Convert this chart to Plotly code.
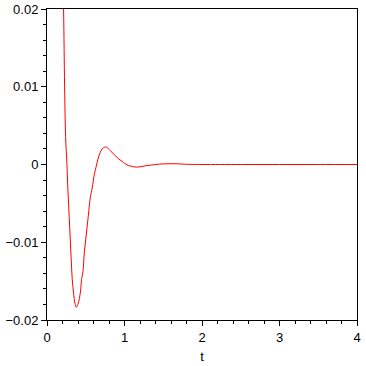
import plotly.graph_objects as go

t = [0.19, 0.214, 0.227, 0.24, 0.257, 0.27, 0.287, 0.30, 0.313, 0.326, 0.343, 0.36, 0.378,
     0.403, 0.429, 0.446, 0.464, 0.481, 0.506, 0.532, 0.558, 0.584, 0.61, 0.635, 0.661,
     0.687, 0.72, 0.764, 0.816, 0.867, 0.928, 0.987, 1.05, 1.16, 1.27, 1.4, 1.5, 1.6,
     1.7, 1.8, 2.0, 2.5, 3.0, 3.5, 4.0]
y = [0.032, 0.02, 0.0102, 0.0036, 0.0001, -0.00335, -0.0068, -0.0097, -0.0123, -0.0148,
     -0.01655, -0.01784, -0.01835, -0.01784, -0.01655, -0.0148, -0.0138, -0.0114, -0.00905,
     -0.0067, -0.0043, -0.0030, -0.0013, -0.00026, 0.0008, 0.00155, 0.0021, 0.00224, 0.0018,
     0.00125, 0.0007, 0.00026, -0.00013, -0.00034, -0.00017, 0.0, 0.00008, 0.0001, 0.00008,
     0.00003, 0.0, 0.0, 0.0, 0.0, 0.0]

x_ticks = [0, 1, 2, 3, 4]
y_ticks = [-0.02, -0.01, 0, 0.01, 0.02]
y_labels = ["−0.02", "−0.01", "0", "0.01", "0.02"]

fig = go.Figure(go.Scatter(x=t, y=y, mode="lines", line=dict(color="#ff0000", width=1),
                           line_shape="spline", hoverinfo="skip"))

axis_common = dict(showgrid=False, zeroline=False, showline=True, linecolor="black",
                   linewidth=1, mirror=True, ticks="outside", ticklen=5, tickwidth=1,
                   automargin=False,
                   tickcolor="black", tickfont=dict(family="Liberation Sans, Arial", size=13, color="black"))

fig.update_layout(
    width=366, height=366,
    margin=dict(l=47, r=9, t=9, b=46),
    paper_bgcolor="white", plot_bgcolor="white",
    showlegend=False,
    xaxis=dict(range=[0, 4], tickvals=x_ticks, ticktext=[str(v) for v in x_ticks],
               minor=dict(dtick=0.2, ticks="outside", ticklen=3, tickcolor="black", showgrid=False),
               title=dict(text="t", font=dict(family="Liberation Sans, Arial", size=13, color="black"), standoff=8),
               **axis_common),
    yaxis=dict(range=[-0.02, 0.02], tickvals=y_ticks, ticktext=y_labels,
               minor=dict(dtick=0.002, tick0=0, ticks="outside", ticklen=3, tickcolor="black", showgrid=False),
               **axis_common),
)

fig.write_html("out.html")
